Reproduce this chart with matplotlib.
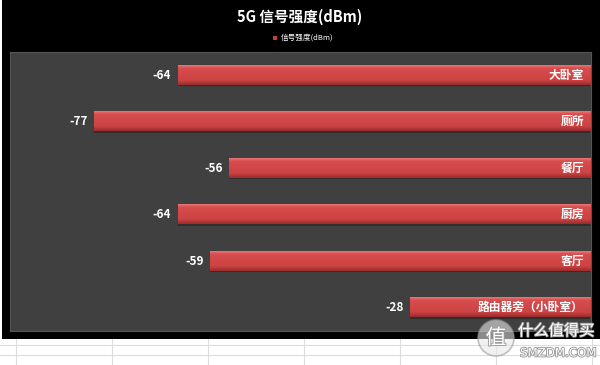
import numpy as np
import matplotlib.pyplot as plt
import matplotlib.patheffects as pe
from matplotlib.patches import Rectangle, Ellipse
from matplotlib.colors import LinearSegmentedColormap

plt.rcParams['font.family'] = ['Noto Sans CJK SC', 'DejaVu Sans']

rooms = ['大卧室', '厕所', '餐厅', '厨房', '客厅', '路由器旁（小卧室）']
signal = [-64, -77, -56, -64, -59, -28]

fig = plt.figure(figsize=(6, 3.65), dpi=100, facecolor='white')

# excel grid below the chart
for x in [16, 112, 208, 304, 400, 496, 592]:
    fig.add_artist(plt.Line2D([x / 600, x / 600], [0, 1], color='#dcdcdc', lw=0.8, zorder=0))
for y in [345, 355]:
    fig.add_artist(plt.Line2D([0, 1], [1 - y / 365, 1 - y / 365], color='#dcdcdc', lw=0.8, zorder=0))

# black chart area
fig.add_artist(Rectangle((2 / 600, 1 - 339 / 365), 1, 339 / 365, transform=fig.transFigure,
                         facecolor='black', edgecolor='none', zorder=1))

ax = fig.add_axes([10 / 600, 1 - 331 / 365, 581 / 600, 279 / 365])
ax.set_zorder(3)
ax.set_facecolor('#404040')
for s in ax.spines.values():
    s.set_color('#555555')
    s.set_linewidth(0.8)

cmap = LinearSegmentedColormap.from_list(
    'bar', [(0, '#ea7676'), (0.15, '#d84c4c'), (0.75, '#cc4343'), (1, '#9c2c2c')])
grad = np.linspace(0, 1, 64).reshape(-1, 1)
h = 0.41
for i, (room, v) in enumerate(zip(rooms, signal)):
    # soft shadow under the bar
    ax.barh(i + 0.03, -v, left=v, height=h, color='#2e2e2e', zorder=1.5)
    ax.imshow(grad, cmap=cmap, aspect='auto', extent=(v, 0, i + h / 2, i - h / 2), zorder=2)
    ax.text(v - 1, i, str(v), color='white', fontsize=8.5, fontweight='bold',
            ha='right', va='center')
    ax.text(-1, i, room, color='white', fontsize=8.5, fontweight='bold',
            ha='right', va='center')

ax.set_xlim(-90, 0.1)
ax.set_ylim(5.5, -0.5)
ax.set_xticks([])
ax.set_yticks([])

fig.text(0.5, 1 - 17 / 365, '5G 信号强度(dBm)', color='white', fontsize=10.5,
         fontweight='bold', ha='center', va='center', zorder=4)
fig.add_artist(Rectangle((273 / 600, 1 - 39.5 / 365), 4 / 600, 4 / 365, transform=fig.transFigure,
                         facecolor='#c53c3c', edgecolor='none', zorder=4))
fig.text(281 / 600, 1 - 37.5 / 365, '信号强度(dBm)', color='white', fontsize=5.5,
         ha='left', va='center', zorder=4)

# watermark
outline = [pe.withStroke(linewidth=1.3, foreground='#9a9a9a')]
fig.add_artist(Ellipse((496 / 600, 1 - 338 / 365), 36 / 600, 36 / 365, transform=fig.transFigure,
                       facecolor='#e8e8e8', edgecolor='#9a9a9a', lw=1.2, alpha=0.6, zorder=5))
fig.text(496 / 600, 1 - 338 / 365, '值', color='white', fontsize=15,
         ha='center', va='center', zorder=6, path_effects=outline)
fig.text(518 / 600, 1 - 331 / 365, '什么值得买', color='white', fontsize=11,
         ha='left', va='center', zorder=6, path_effects=outline)
fig.text(520 / 600, 1 - 353 / 365, 'SMZDM.COM', color='white', fontsize=8.5,
         ha='left', va='center', zorder=6, path_effects=outline, family=['DejaVu Sans'])

plt.savefig('out.png', dpi=100, facecolor='white')
